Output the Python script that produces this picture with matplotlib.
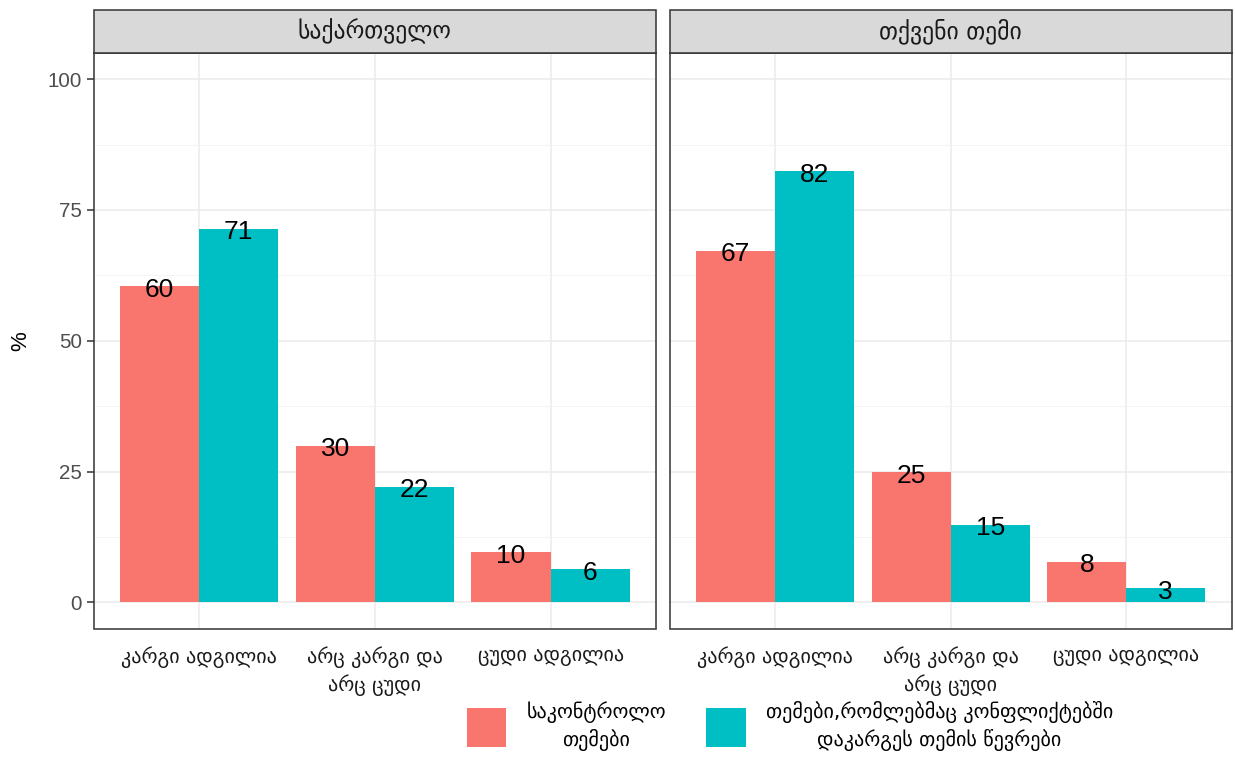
from matplotlib import pyplot as plt
from matplotlib.patches import Patch, Rectangle
import numpy as np

# data
panels = ['საქართველო', 'თქვენი თემი']
categories = ['კარგი ადგილია', 'არც კარგი და\nარც ცუდი', 'ცუდი ადგილია']
series = ['საკონტროლო\nთემები', 'თემები,რომლებმაც კონფლიქტებში\nდაკარგეს თემის წევრები']
control = [[60.4, 29.9, 9.6], [67.2, 24.9, 7.8]]
conflict = [[71.4, 22.1, 6.3], [82.4, 14.8, 2.7]]
colours = ['#F8766D', '#00BFC4']

W, H = 1235, 764
fig = plt.figure(figsize=(W / 100, H / 100), dpi=100)
fig.patch.set_facecolor('white')

geo = ['DejaVu Sans']
num = ['Liberation Sans', 'DejaVu Sans']

left_px = [93.7, 670]
right_px = [656, 1231.5]
top_px, bot_px = 53, 628.5
strip_top = 10

axes = []
for i in range(2):
    l = left_px[i] / W
    w = (right_px[i] - left_px[i]) / W
    b = 1 - bot_px / H
    h = (bot_px - top_px) / H
    ax = fig.add_axes([l, b, w, h])
    axes.append(ax)
    x = np.arange(1, len(categories) + 1)
    bw = 0.45
    ax.bar(x - bw / 2, control[i], width=bw, color=colours[0], zorder=3)
    ax.bar(x + bw / 2, conflict[i], width=bw, color=colours[1], zorder=3)
    # value labels centred on the bar tops
    for xi, v in zip(x, control[i]):
        ax.annotate('%d' % round(v), (xi - bw / 2, v), xytext=(0, -2.5),
                    textcoords='offset points', ha='center', va='center',
                    fontsize=19, family=num, color='black', zorder=4)
    for xi, v in zip(x, conflict[i]):
        ax.annotate('%d' % round(v), (xi + bw / 2, v), xytext=(0, -2.5),
                    textcoords='offset points', ha='center', va='center',
                    fontsize=19, family=num, color='black', zorder=4)
    ax.set_xlim(0.4, 3.6)
    ax.set_ylim(-5, 105)
    ax.set_yticks([0, 25, 50, 75, 100])
    ax.set_yticks([12.5, 37.5, 62.5, 87.5], minor=True)
    ax.set_xticks(x)
    ax.set_xticklabels(categories, family=geo, fontsize=14.5, color='#1A1A1A',
                       linespacing=1.35)
    ax.grid(which='major', color='#EBEBEB', linewidth=1.1, zorder=0)
    ax.grid(which='minor', axis='y', color='#F2F2F2', linewidth=0.6, zorder=0)
    ax.tick_params(axis='x', length=0, pad=13)
    ax.tick_params(axis='y', which='minor', length=0)
    for s in ax.spines.values():
        s.set_color('#333333')
        s.set_linewidth(1.1)
    if i == 0:
        ax.tick_params(axis='y', length=5, width=1.1, color='#333333',
                       labelsize=14.8, labelcolor='#4D4D4D', pad=3.5)
        for t in ax.get_yticklabels():
            t.set_family(num)
        ax.set_ylabel('%', fontsize=16, family=num, labelpad=12)
    else:
        ax.tick_params(axis='y', length=0, labelleft=False)
    # facet strip
    sh = (top_px - strip_top) / H
    strip = Rectangle((l, 1 - top_px / H), w, sh, transform=fig.transFigure,
                      facecolor='#D9D9D9', edgecolor='#333333', linewidth=1.1)
    fig.add_artist(strip)
    fig.text(l + w / 2, 1 - (top_px + strip_top) / 2 / H, panels[i],
             ha='center', va='center', fontsize=17, family=geo, color='#1A1A1A')

handles = [Patch(facecolor=c, edgecolor='none') for c in colours]
leg = fig.legend(handles, series, loc='center', bbox_to_anchor=(790 / W, 1 - 726 / H),
                 ncol=2, frameon=False, prop={'family': geo, 'size': 14.5},
                 handlelength=1.95, handleheight=2.6, handletextpad=1.0,
                 columnspacing=2.0, labelspacing=0.3)
for t in leg.get_texts():
    t.set_multialignment('center')
    t.set_linespacing(1.35)

fig.savefig('out.png', dpi=100)
